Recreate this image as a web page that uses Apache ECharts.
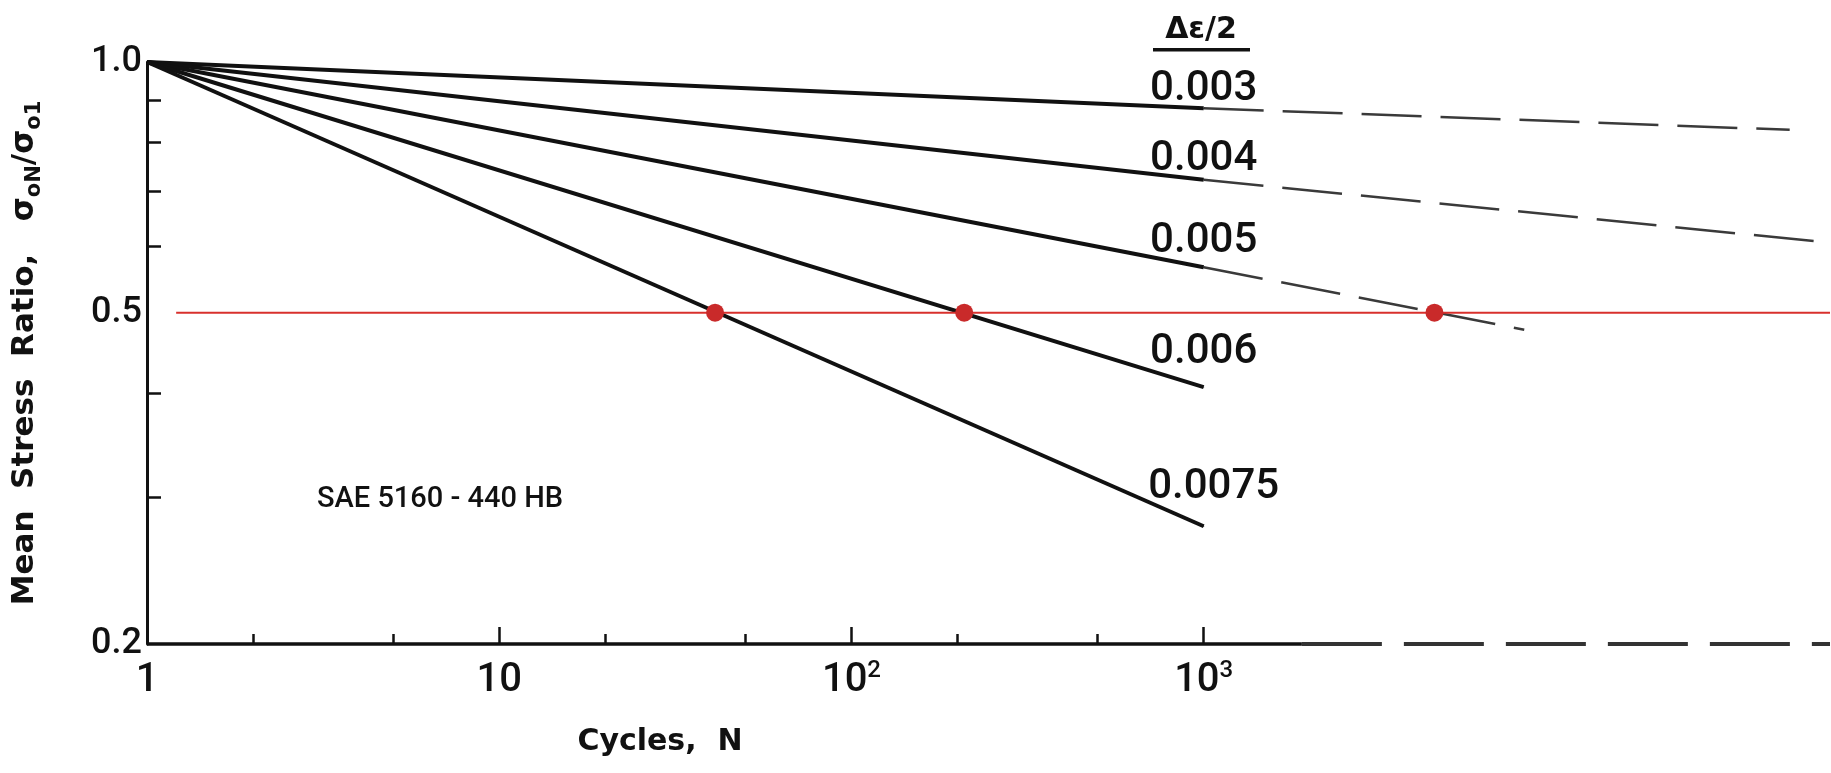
<!DOCTYPE html>
<html>
<head>
<meta charset="utf-8">
<script src="https://cdn.jsdelivr.net/npm/echarts@6/dist/echarts.min.js"></script>
<style>
  html, body { margin: 0; padding: 0; background: #fff; }
  #chart { width: 1831px; height: 773px; }
</style>
</head>
<body>
<div id="chart"></div>
<script>
// Strain amplitudes (Δε/2) of the relaxation lines
const strainAmplitudes = ['0.003', '0.004', '0.005', '0.006', '0.0075'];
// Each line runs from N = 1 (ratio 1.0) to N = 10^3
const startCycles = 1;
const startRatio = 1.0;
const endCycles = 1000;
const ratioAt1000 = [0.880, 0.722, 0.567, 0.407, 0.277];

// Extrapolated continuations beyond 10^3 cycles
const extAmplitudes = ['0.003', '0.004', '0.005'];
const extEndCycles = [46100, 57200, 8130];
const extEndRatio = [0.829, 0.608, 0.477];

// Half-relaxation level and where each line reaches it
const halfRatio = 0.5;
const halfLineStart = 1.21;
const halfCycles = [41, 209, 4520];

// Axis ranges, ticks and labels
const xMin = 1, xMax = 60000;
const yMin = 0.2, yMax = 1.0;
const xMajorTicks = [10, 100, 1000];
const xMinorTicks = [2, 5, 20, 50, 200, 500];
const xLabelValues = [1, 10, 100, 1000];
const xLabelTexts = ['1', '10', '10{sup|2}', '10{sup|3}'];
const yTicks = [0.3, 0.4, 0.6, 0.7, 0.8, 0.9];
const yLabelValues = [0.2, 0.5, 1.0];
const yLabelTexts = ['0.2', '0.5', '1.0'];
// The cycle axis is drawn solid up to here, dashed beyond
const axisSolidEnd = 1900;

// label placement above each line end
const labelGap = [4, 6, 11, 20, 24];
const labelDx = [0, 0, 0, 0, 10];
const labelDy = 7;

const INK = '#111';
const numFont = 'Roboto';
const titleFont = '"DejaVu Sans"';

const chart = echarts.init(document.getElementById('chart'), null, { renderer: 'canvas' });

const series = [];

// cycle axis baseline: solid part and dashed continuation
series.push({
  type: 'line', silent: true, clip: false, symbol: 'none', z: 3,
  data: [[xMin, yMin], [axisSolidEnd, yMin]],
  lineStyle: { color: INK, width: 3.5 }
});
series.push({
  type: 'line', silent: true, clip: false, symbol: 'none', z: 3,
  data: [[axisSolidEnd, yMin], [xMax, yMin]],
  lineStyle: { color: '#333', width: 4, type: [80, 22] }
});

// solid relaxation lines with their amplitude labels
strainAmplitudes.forEach((name, i) => {
  series.push({
    type: 'line', name, symbol: 'none', silent: true, z: 4,
    data: [
      [startCycles, startRatio],
      {
        value: [endCycles, ratioAt1000[i]],
        symbol: 'circle', symbolSize: 1,
        label: {
          show: true, position: 'top', distance: labelGap[i], offset: [labelDx[i], labelDy],
          formatter: name, fontFamily: numFont, fontWeight: 500, fontSize: 42, color: INK
        }
      }
    ],
    itemStyle: { color: INK },
    lineStyle: { color: INK, width: 4 }
  });
});

// dashed extrapolations
extAmplitudes.forEach((name, i) => {
  const k = strainAmplitudes.indexOf(name);
  series.push({
    type: 'line', name: name + ' ext', symbol: 'none', silent: true, z: 4,
    data: [[endCycles, ratioAt1000[k]], [extEndCycles[i], extEndRatio[i]]],
    lineStyle: { color: '#3a3a3a', width: 2.5, type: [60, 19] }
  });
});

// half-relaxation reference line
series.push({
  type: 'line', symbol: 'none', silent: true, z: 5,
  data: [[halfLineStart, halfRatio], [xMax, halfRatio]],
  lineStyle: { color: '#d8302c', width: 2 }
});

// crossing points
series.push({
  type: 'scatter', silent: true, z: 6,
  symbolSize: 18,
  data: halfCycles.map(n => [n, halfRatio]),
  itemStyle: { color: '#c92a2a', opacity: 1 }
});

const baseX = {
  type: 'log', logBase: 10, min: xMin, max: xMax, position: 'bottom', offset: 0,
  axisLine: { show: false },
  splitLine: { show: false },
  minorTick: { show: false }
};

const option = {
  animation: false,
  backgroundColor: '#fff',
  grid: { left: 147, top: 62, width: 1683, height: 582, containLabel: false, outerBoundsMode: 'none' },
  xAxis: [
    // decade labels
    Object.assign({}, baseX, {
      axisTick: { show: false },
      axisLabel: {
        show: true, margin: 15, customValues: xLabelValues,
        fontFamily: numFont, fontWeight: 500, fontSize: 40, color: INK, lineHeight: 44,
        formatter: v => {
          const idx = xLabelValues.findIndex(t => Math.abs(t - v) < 1e-6 * t);
          return idx >= 0 ? xLabelTexts[idx] : '';
        },
        rich: {
          sup: { fontFamily: numFont, fontWeight: 500, fontSize: 24, lineHeight: 24,
                 verticalAlign: 'top', color: INK }
        }
      }
    }),
    // decade ticks
    Object.assign({}, baseX, {
      axisLabel: { show: false },
      axisTick: { show: true, inside: true, length: 17, customValues: xMajorTicks,
                  lineStyle: { color: INK, width: 2.5 } }
    }),
    // intermediate ticks (2 and 5 of each decade)
    Object.assign({}, baseX, {
      axisLabel: { show: false },
      axisTick: { show: true, inside: true, length: 10, customValues: xMinorTicks,
                  lineStyle: { color: INK, width: 2.5 } }
    })
  ],
  yAxis: {
    type: 'log', logBase: 10, min: yMin, max: yMax,
    axisLine: { show: true, lineStyle: { color: INK, width: 3 } },
    splitLine: { show: false },
    minorTick: { show: false },
    axisTick: { show: true, inside: true, length: 14, customValues: yTicks,
                lineStyle: { color: INK, width: 2.5 } },
    axisLabel: {
      show: true, margin: 5, customValues: yLabelValues,
      fontFamily: numFont, fontWeight: 500, fontSize: 36, color: INK,
      formatter: v => {
        const idx = yLabelValues.findIndex(t => Math.abs(t - v) < 1e-6);
        return idx >= 0 ? yLabelTexts[idx] : '';
      }
    },
    name: '{t|Mean  Stress  Ratio,   σ}{s|oN}{t|/σ}{s|o1}',
    nameLocation: 'middle',
    nameRotate: 90,
    nameGap: 102,
    nameTextStyle: {
      rich: {
        t: { fontFamily: titleFont, fontWeight: 'bold', fontSize: 31, lineHeight: 40, color: INK },
        s: { fontFamily: titleFont, fontWeight: 'bold', fontSize: 21, lineHeight: 22,
             verticalAlign: 'bottom', color: INK }
      }
    }
  },
  graphic: [
    { type: 'text', x: 1201, y: 30, silent: true,
      style: { text: 'Δε/2', font: 'bold 30px ' + titleFont, fill: INK, align: 'center', verticalAlign: 'middle' } },
    { type: 'rect', silent: true, shape: { x: 1153, y: 48, width: 97, height: 3.5 }, style: { fill: INK } },
    { type: 'text', x: 317, y: 500, silent: true,
      style: { text: 'SAE 5160 - 440 HB', font: '500 29px ' + numFont, fill: INK, align: 'left', verticalAlign: 'middle' } },
    { type: 'text', x: 660, y: 742, silent: true,
      style: { text: 'Cycles,  N', font: 'bold 30px ' + titleFont, fill: INK, align: 'center', verticalAlign: 'middle' } }
  ],
  series
};

chart.setOption(option);
</script>
</body>
</html>
